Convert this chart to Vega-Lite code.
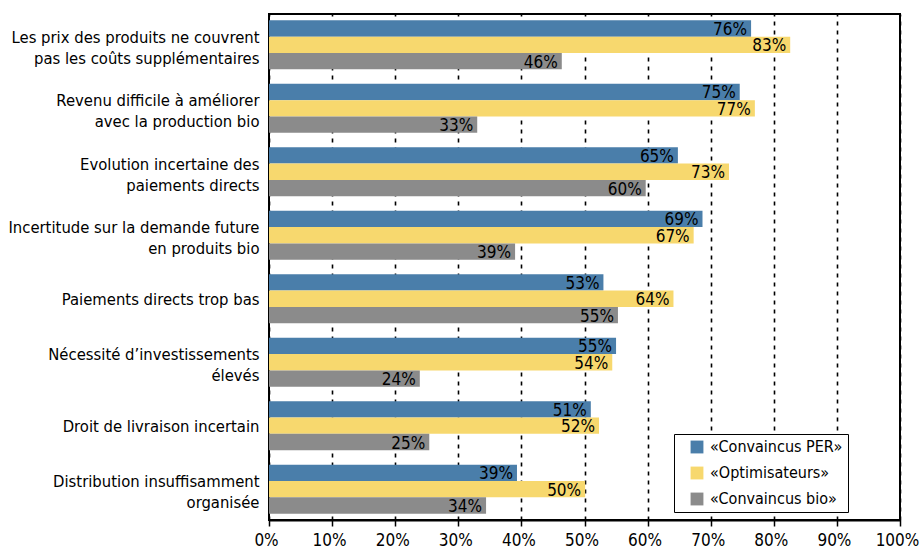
{
  "$schema": "https://vega.github.io/schema/vega-lite/v6.json",
  "width": 631,
  "height": 506,
  "autosize": {"type": "none"},
  "padding": {"left": 269, "top": 14, "right": 21, "bottom": 32},
  "background": "white",
  "config": {
    "font": "DejaVu Sans Condensed, DejaVu Sans, sans-serif",
    "view": {"stroke": "black", "strokeWidth": 2}
  },
  "data": {
    "values": [
      {"cat": "Les prix des produits ne couvrent\u00a0|pas les coûts supplémentaires", "serie": "«Convaincus PER»", "v": 0.764},
      {"cat": "Les prix des produits ne couvrent\u00a0|pas les coûts supplémentaires", "serie": "«Optimisateurs»", "v": 0.826},
      {"cat": "Les prix des produits ne couvrent\u00a0|pas les coûts supplémentaires", "serie": "«Convaincus bio»", "v": 0.464},
      {"cat": "Revenu difficile à améliorer|avec la production bio", "serie": "«Convaincus PER»", "v": 0.746},
      {"cat": "Revenu difficile à améliorer|avec la production bio", "serie": "«Optimisateurs»", "v": 0.770},
      {"cat": "Revenu difficile à améliorer|avec la production bio", "serie": "«Convaincus bio»", "v": 0.330},
      {"cat": "Evolution incertaine des|paiements directs\u00a0", "serie": "«Convaincus PER»", "v": 0.648},
      {"cat": "Evolution incertaine des|paiements directs\u00a0", "serie": "«Optimisateurs»", "v": 0.729},
      {"cat": "Evolution incertaine des|paiements directs\u00a0", "serie": "«Convaincus bio»", "v": 0.597},
      {"cat": "Incertitude sur la demande future|en produits bio\u00a0", "serie": "«Convaincus PER»", "v": 0.687},
      {"cat": "Incertitude sur la demande future|en produits bio\u00a0", "serie": "«Optimisateurs»", "v": 0.673},
      {"cat": "Incertitude sur la demande future|en produits bio\u00a0", "serie": "«Convaincus bio»", "v": 0.390},
      {"cat": "Paiements directs trop bas", "serie": "«Convaincus PER»", "v": 0.530},
      {"cat": "Paiements directs trop bas", "serie": "«Optimisateurs»", "v": 0.641},
      {"cat": "Paiements directs trop bas", "serie": "«Convaincus bio»", "v": 0.553},
      {"cat": "Nécessité d’investissements|élevés", "serie": "«Convaincus PER»", "v": 0.550},
      {"cat": "Nécessité d’investissements|élevés", "serie": "«Optimisateurs»", "v": 0.544},
      {"cat": "Nécessité d’investissements|élevés", "serie": "«Convaincus bio»", "v": 0.239},
      {"cat": "Droit de livraison incertain", "serie": "«Convaincus PER»", "v": 0.510},
      {"cat": "Droit de livraison incertain", "serie": "«Optimisateurs»", "v": 0.523},
      {"cat": "Droit de livraison incertain", "serie": "«Convaincus bio»", "v": 0.254},
      {"cat": "Distribution insuffisamment|organisée", "serie": "«Convaincus PER»", "v": 0.393},
      {"cat": "Distribution insuffisamment|organisée", "serie": "«Optimisateurs»", "v": 0.501},
      {"cat": "Distribution insuffisamment|organisée", "serie": "«Convaincus bio»", "v": 0.344}
    ]
  },
  "encoding": {
    "y": {
      "field": "cat",
      "type": "nominal",
      "sort": null,
      "scale": {"paddingInner": 0.23, "paddingOuter": 0.1},
      "axis": {
        "title": null,
        "ticks": false,
        "domain": false,
        "labelExpr": "split(datum.label, '|')",
        "labelFontSize": 16.5,
        "labelLineHeight": 21,
        "labelColor": "black",
        "labelLimit": 0,
        "labelPadding": 10,
        "labelOffset": {"condition": {"test": "indexof(datum.label, '|') >= 0", "value": -7}, "value": 1}
      }
    },
    "yOffset": {
      "field": "serie",
      "type": "nominal",
      "sort": ["«Convaincus PER»", "«Optimisateurs»", "«Convaincus bio»"]
    },
    "x": {
      "field": "v",
      "type": "quantitative",
      "scale": {"domain": [0, 1], "nice": false},
      "axis": {
        "title": null,
        "format": ".0%",
        "values": [0, 0.1, 0.2, 0.3, 0.4, 0.5, 0.6, 0.7, 0.8, 0.9, 1],
        "grid": true,
        "gridColor": "black",
        "gridDash": [4, 5],
        "gridWidth": 1.6,
        "gridOpacity": 1,
        "domainColor": "black",
        "domainWidth": 2,
        "tickColor": "black",
        "tickWidth": 1.5,
        "tickSize": 6,
        "labelFontSize": 17,
        "labelColor": "black",
        "labelPadding": 6,
        "labelOffset": -3,
        "labelFlush": false
      }
    }
  },
  "layer": [
    {
      "mark": {"type": "bar"},
      "encoding": {
        "color": {
          "field": "serie",
          "type": "nominal",
          "scale": {
            "domain": ["«Convaincus PER»", "«Optimisateurs»", "«Convaincus bio»"],
            "range": ["#4A7EAA", "#F7D86E", "#8B8B8B"]
          },
          "legend": {
            "title": null,
            "orient": "none",
            "legendX": 405,
            "legendY": 420,
            "strokeColor": "black",
            "padding": 5,
            "symbolType": "square",
            "symbolSize": 165,
            "symbolStrokeWidth": 0,
            "symbolOffset": 10,
            "labelFontSize": 16,
            "labelColor": "black",
            "labelOffset": 5,
            "rowPadding": 10,
            "fillColor": "white"
          }
        }
      }
    },
    {
      "mark": {"type": "text", "align": "right", "baseline": "middle", "dx": -4, "dy": 1.5, "fontSize": 17, "color": "black"},
      "encoding": {
        "text": {"field": "v", "type": "quantitative", "format": ".0%"}
      }
    }
  ]
}
